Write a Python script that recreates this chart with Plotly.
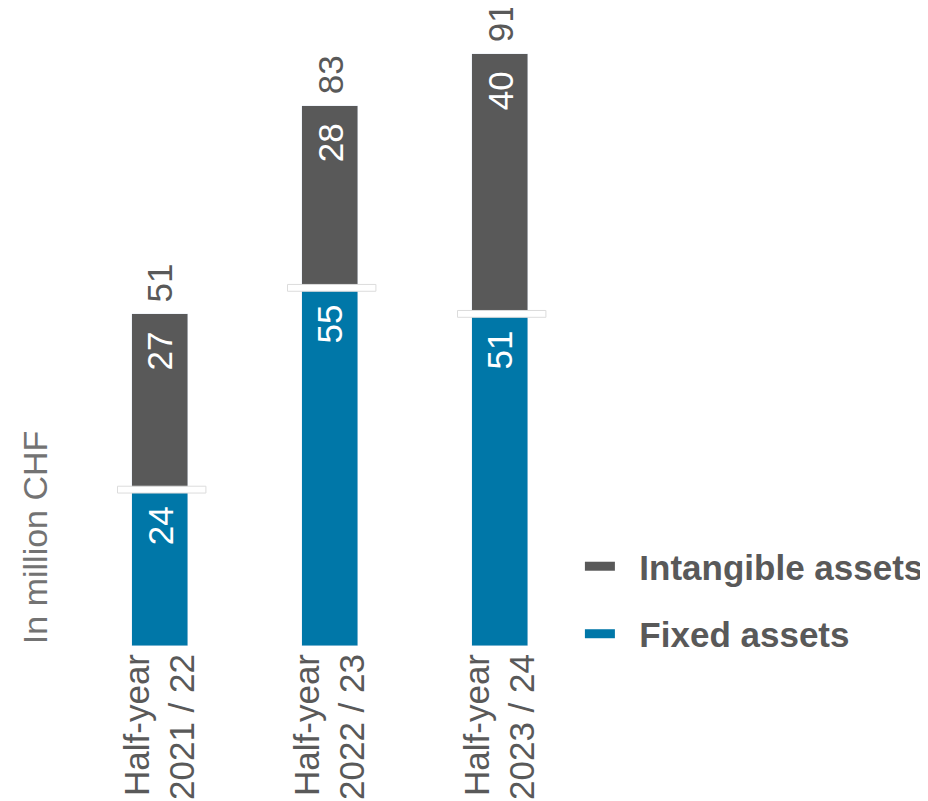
import plotly.graph_objects as go

# ---- data ----
periods = ["2021 / 22", "2022 / 23", "2023 / 24"]
period_prefix = "Half-year"
fixed_assets = [24, 55, 51]
intangible_assets = [27, 28, 40]
totals = [51, 83, 91]
y_title = "In million CHF"

GREY = "#595959"
BLUE = "#0077A8"
FONT = "Liberation Sans, Arial, sans-serif"
FS = 35

tick_text = [f"{period_prefix}<br>{p}" for p in periods]

fig = go.Figure()

fig.add_trace(go.Bar(x=periods, y=fixed_assets, name="Fixed assets", marker_color=BLUE,
                     width=0.335, showlegend=False, hoverinfo="y"))
fig.add_trace(go.Bar(x=periods, y=intangible_assets, name="Intangible assets",
                     marker_color=GREY, width=0.335, showlegend=False, hoverinfo="y"))

# legend entries (flat rectangular swatches)
fig.add_trace(go.Scatter(x=[None], y=[None], mode="lines",
                         name="\u00a0\u00a0Intangible assets", legendgroup="a",
                         line=dict(color=GREY, width=9)))
fig.add_trace(go.Scatter(x=[None], y=[None], mode="lines",
                         name="\u00a0\u00a0Fixed assets", legendgroup="b",
                         line=dict(color=BLUE, width=9)))

for i, p in enumerate(periods):
    # white separator between the two segments
    fig.add_shape(type="rect", xref="x", yref="y",
                  x0=i - 0.25, x1=i + 0.27,
                  y0=fixed_assets[i] - 0.5, y1=fixed_assets[i] + 0.55,
                  fillcolor="white", line=dict(color="#dcdcdc", width=1), layer="above")
    # segment labels (inside, near segment top)
    fig.add_annotation(x=p, y=fixed_assets[i], text=str(fixed_assets[i]), textangle=-90,
                       showarrow=False, yanchor="top", yshift=-15,
                       font=dict(family=FONT, size=FS, color="white"))
    fig.add_annotation(x=p, y=totals[i], text=str(intangible_assets[i]), textangle=-90,
                       showarrow=False, yanchor="top", yshift=-16,
                       font=dict(family=FONT, size=FS, color="white"))
    # totals above bars
    fig.add_annotation(x=p, y=totals[i], text=str(totals[i]), textangle=-90,
                       showarrow=False, yanchor="bottom", yshift=9,
                       font=dict(family=FONT, size=FS, color=GREY))

fig.add_annotation(xref="paper", yref="paper", x=-0.078, y=0.171, text=y_title,
                   textangle=-90, showarrow=False, xanchor="center", yanchor="middle",
                   font=dict(family=FONT, size=34, color="#737373"))

fig.update_layout(
    width=920, height=793,
    margin=dict(l=67, r=343, t=6, b=155, autoexpand=False),
    barmode="stack", bargap=0,
    plot_bgcolor="white", paper_bgcolor="white",
    showlegend=True,
    legend=dict(x=0.99, xanchor="left", y=0.1725, yanchor="top",
                traceorder="grouped", tracegroupgap=19,
                font=dict(family=FONT, size=FS, color=GREY, weight="bold")),
    xaxis=dict(type="category", categoryorder="array", categoryarray=periods,
               range=[-0.5, 2.5], tickmode="array", tickvals=periods,
               ticktext=tick_text, tickangle=-90,
               showline=False, showgrid=False, ticks="",
               tickfont=dict(family=FONT, size=FS, color=GREY)),
    yaxis=dict(range=[0, 97.1], visible=False, showgrid=False),
)

fig.write_html("out.html")
